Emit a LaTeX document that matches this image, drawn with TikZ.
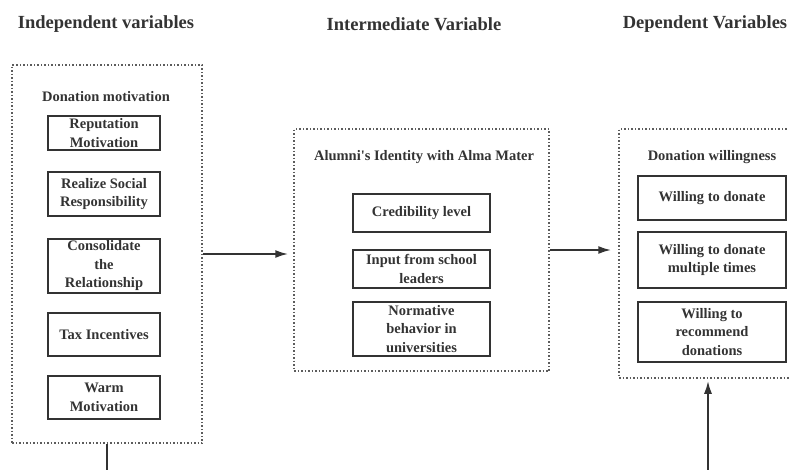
\documentclass[tikz,border=0pt]{standalone}
\usepackage{fontspec}
\setmainfont{Liberation Serif}
\usetikzlibrary{arrows.meta}
\definecolor{inkgray}{HTML}{333333}
\tikzstyle{arrow} = [line width=2pt, ->, >={Latex[length=13pt,width=8pt]}, inkgray]

\begin{document}
\begin{tikzpicture}[x=1pt, y=-1pt,
		title/.style={font=\fontsize{18.5}{22}\selectfont\bfseries, text=inkgray},
		head/.style={font=\fontsize{14.5}{17}\selectfont\bfseries, text=inkgray},
		group/.style={draw=inkgray!80, dotted, line width=1.5pt, inner sep=0pt},
		item/.style={draw=inkgray, line width=1.8pt, inner sep=0pt, align=center,
			font=\fontsize{14.5}{18.5}\selectfont\bfseries, text=inkgray}]
		
		\useasboundingbox (0,0) rectangle (789,469);
		\clip (0,0) rectangle (789,469);
		
		\node[title] (tindep) at (106,24) {Independent variables};
		\node[title] (tinter) at (414,24) {Intermediate Variable};
		\node[title] (tdep) at (705,24) {Dependent Variables};
		
		% independent variables
		\node[group, minimum width=190, minimum height=378] (lbox) at (107,254) {};
		\node[head] (lhead) at (106,97) {Donation motivation};
		\node[item, minimum width=112, minimum height=34] (rep) at (104,133) {Reputation\\Motivation};
		\node[item, minimum width=112, minimum height=44] (soc) at (104,194) {Realize Social\\Responsibility};
		\node[item, minimum width=112, minimum height=54] (rel) at (104,266) {Consolidate\\the\\Relationship};
		\node[item, minimum width=112, minimum height=43] (tax) at (104,334.5) {Tax Incentives};
		\node[item, minimum width=112, minimum height=43] (warm) at (104,397.5) {Warm\\Motivation};
		
		% intermediate variable
		\node[group, minimum width=255, minimum height=242] (mbox) at (421.5,250) {};
		\node[head] (mhead) at (424,157) {Alumni\textquotesingle s Identity with Alma Mater};
		\node[item, minimum width=137, minimum height=38] (cred) at (421.5,213) {Credibility level};
		\node[item, minimum width=137, minimum height=38] (lead) at (421.5,269) {Input from school\\leaders};
		\node[item, minimum width=137, minimum height=54] (norm) at (421.5,329) {Normative\\behavior in\\universities};
		
		% dependent variables
		\node[group, minimum width=178, minimum height=249] (rbox) at (708,253.5) {};
		\node[head] (rhead) at (712,157) {Donation willingness};
		\node[item, minimum width=148, minimum height=44] (don) at (712,198) {Willing to donate};
		\node[item, minimum width=148, minimum height=56] (mult) at (712,260) {Willing to donate\\multiple times};
		\node[item, minimum width=148, minimum height=60] (recm) at (712,332) {Willing to\\recommend\\donations};
		
		\coordinate (lend) at (107,480);
		\coordinate (rend) at (708,480);
		
		\draw[arrow, shorten >=5pt] (lbox.east) -- (lbox.east -| mbox.west);
		\draw[arrow, shorten >=7pt] (mbox.east) -- (mbox.east -| rbox.west);
		\draw[line width=2pt, inkgray] (lbox.south) -- (lend);
		\draw[arrow, shorten >=2pt] (rend) -- (rbox.south);
		
	\end{tikzpicture}
\end{document}
